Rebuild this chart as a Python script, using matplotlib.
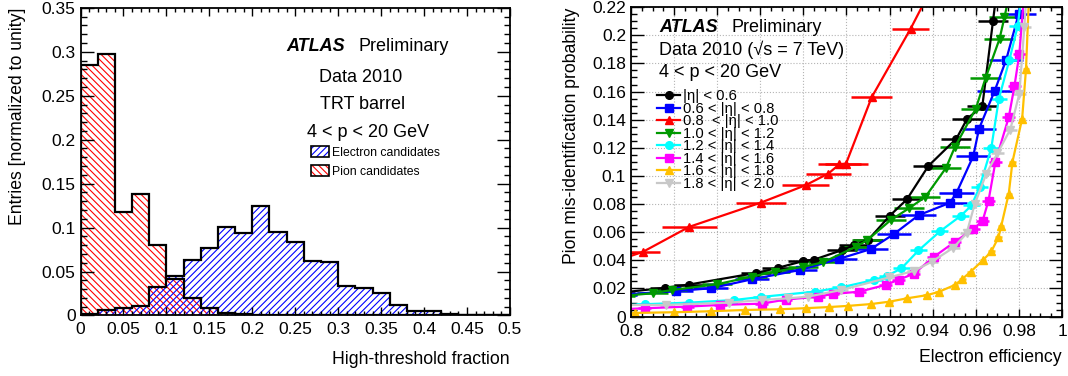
import matplotlib
matplotlib.use('Agg')
import matplotlib.pyplot as plt
import numpy as np
from matplotlib.patches import Patch
from matplotlib.ticker import MultipleLocator, FuncFormatter

plt.rcParams['font.family'] = ['Liberation Sans', 'DejaVu Sans']
plt.rcParams['hatch.linewidth'] = 0.8

# ---------------- left panel data ----------------
bin_start = 0.0
bin_width = 0.02
electron = [0.002, 0.006, 0.008, 0.011, 0.032, 0.045, 0.063, 0.077, 0.101, 0.094,
            0.124, 0.095, 0.084, 0.062, 0.061, 0.034, 0.0315, 0.025, 0.0115, 0.0046,
            0.0046, 0.0012, 0.0008, 0.0003, 0.0001]
pion = [0.285, 0.298, 0.118, 0.138, 0.080, 0.041, 0.020, 0.0085, 0.003, 0.0015,
        0.001, 0.0005, 0.0003, 0.0, 0.0, 0.0, 0.0, 0.0, 0.0, 0.0,
        0.0, 0.0, 0.0, 0.0, 0.0]

# ---------------- right panel data ----------------
labels = ['|η| < 0.6', '0.6 < |η| < 0.8', '0.8  < |η| < 1.0', '1.0 < |η| < 1.2',
          '1.2 < |η| < 1.4', '1.4 < |η| < 1.6', '1.6 < |η| < 1.8', '1.8 < |η| < 2.0']

eff_eta06 = [0.795, 0.816, 0.827, 0.858, 0.868, 0.880, 0.885, 0.898, 0.9035, 0.910,
             0.920, 0.928, 0.938, 0.951, 0.956, 0.963, 0.968, 0.972]
mis_eta06 = [0.0170, 0.0205, 0.0228, 0.0310, 0.0346, 0.0395, 0.0405, 0.0473, 0.0508, 0.0544,
             0.0716, 0.0833, 0.1071, 0.1265, 0.1407, 0.1494, 0.2104, 0.260]
err_eta06 = 0.007

eff_eta08 = [0.795, 0.8208, 0.837, 0.8561, 0.8783, 0.8967, 0.9113, 0.922, 0.9335, 0.948,
             0.9511, 0.9588, 0.9615, 0.9687, 0.9741, 0.9799, 0.983]
mis_eta08 = [0.0155, 0.0182, 0.0201, 0.0265, 0.0331, 0.0411, 0.0480, 0.0587, 0.0721, 0.0809,
             0.0882, 0.1140, 0.1336, 0.1603, 0.1826, 0.2152, 0.25]
err_eta08 = 0.008

eff_eta10 = [0.790, 0.8055, 0.827, 0.8604, 0.881, 0.8916, 0.8967, 0.8998, 0.9117, 0.9297, 0.945]
mis_eta10 = [0.038, 0.046, 0.0638, 0.0811, 0.0934, 0.1017, 0.1083, 0.1088, 0.156, 0.2045, 0.250]
err_eta10 = [0.008, 0.008, 0.0127, 0.0117, 0.0107, 0.0103, 0.010, 0.010, 0.0094, 0.0085, 0.008]

eff_eta12 = [0.795, 0.810, 0.819, 0.840, 0.856, 0.867, 0.880, 0.889, 0.9044, 0.9097,
             0.9205, 0.9289, 0.9366, 0.9462, 0.9503, 0.960, 0.9645, 0.971, 0.9733, 0.977]
mis_eta12 = [0.0145, 0.0166, 0.0189, 0.0230, 0.0284, 0.0320, 0.0355, 0.0385, 0.0497, 0.0544,
             0.0686, 0.0769, 0.0851, 0.1058, 0.1206, 0.1478, 0.1695, 0.1974, 0.2128, 0.240]
err_eta12 = 0.007

eff_eta14 = [0.795, 0.8063, 0.827, 0.8479, 0.8605, 0.8852, 0.8975, 0.9128, 0.9189, 0.9255,
             0.9334, 0.9433, 0.953, 0.958, 0.9618, 0.9672, 0.9707, 0.9756, 0.9795, 0.982]
mis_eta14 = [0.0080, 0.0088, 0.0099, 0.0118, 0.0140, 0.0177, 0.0208, 0.0260, 0.0290, 0.0343,
             0.0470, 0.0605, 0.0716, 0.0790, 0.0922, 0.1200, 0.1549, 0.1826, 0.2069, 0.24]
err_eta14 = 0.004

eff_eta16 = [0.795, 0.8063, 0.8262, 0.8415, 0.8607, 0.8718, 0.887, 0.8937, 0.9059, 0.9182,
             0.9243, 0.9312, 0.9404, 0.9503, 0.9589, 0.9632, 0.9659, 0.9691, 0.9753, 0.9779,
             0.9802, 0.983]
mis_eta16 = [0.0052, 0.0059, 0.0071, 0.0083, 0.0092, 0.0121, 0.0142, 0.0161, 0.0177, 0.0225,
             0.0263, 0.0304, 0.0423, 0.0532, 0.0622, 0.0683, 0.0825, 0.1100, 0.1418, 0.1636,
             0.1868, 0.24]
err_eta16 = 0.003

eff_eta18 = [0.795, 0.8018, 0.8201, 0.8369, 0.8527, 0.8691, 0.8814, 0.8921, 0.9006, 0.9113,
             0.9199, 0.9281, 0.9372, 0.9427, 0.9503, 0.9538, 0.9576, 0.9634, 0.9672, 0.9705,
             0.9718, 0.9753, 0.9770, 0.9815, 0.9833, 0.985]
mis_eta18 = [0.0024, 0.0026, 0.0031, 0.0038, 0.0047, 0.0052, 0.0060, 0.0068, 0.0076, 0.0089,
             0.0106, 0.0130, 0.0152, 0.0175, 0.0225, 0.0268, 0.0319, 0.0402, 0.0463, 0.0563,
             0.0645, 0.0875, 0.1100, 0.1407, 0.1762, 0.24]
err_eta18 = 0.0015

eff_eta20 = [0.795, 0.8163, 0.8454, 0.8607, 0.873, 0.8822, 0.8975, 0.9197, 0.9312, 0.9396,
             0.9496, 0.9557, 0.9595, 0.9649, 0.9700, 0.9760, 0.9802, 0.9825, 0.984]
mis_eta20 = [0.0082, 0.0083, 0.0099, 0.0118, 0.0130, 0.0142, 0.0189, 0.0278, 0.0325, 0.0390,
             0.0490, 0.0591, 0.0800, 0.1017, 0.1160, 0.1330, 0.1584, 0.2057, 0.24]
err_eta20 = 0.003

series = [
    (eff_eta06, mis_eta06, err_eta06, 'black', 'o'),
    (eff_eta08, mis_eta08, err_eta08, '#0000ff', 's'),
    (eff_eta10, mis_eta10, err_eta10, '#ff0000', '^'),
    (eff_eta12, mis_eta12, err_eta12, '#009900', 'v'),
    (eff_eta14, mis_eta14, err_eta14, '#00ffff', 'o'),
    (eff_eta16, mis_eta16, err_eta16, '#ff00ff', 's'),
    (eff_eta18, mis_eta18, err_eta18, '#ffc000', '^'),
    (eff_eta20, mis_eta20, err_eta20, '#c8c8c8', 'v'),
]

# ---------------- figure ----------------
fig = plt.figure(figsize=(10.68, 3.76), dpi=100)
ax1 = fig.add_axes([0.0754, 0.161, 0.4021, 0.818])
ax2 = fig.add_axes([0.5908, 0.158, 0.4036, 0.823])

fmt = FuncFormatter(lambda v, p: '%g' % round(v, 4))


def root_style(ax, xmaj, xmin, ymaj, ymin):
    ax.xaxis.set_major_locator(MultipleLocator(xmaj))
    ax.xaxis.set_minor_locator(MultipleLocator(xmin))
    ax.yaxis.set_major_locator(MultipleLocator(ymaj))
    ax.yaxis.set_minor_locator(MultipleLocator(ymin))
    ax.xaxis.set_major_formatter(fmt)
    ax.yaxis.set_major_formatter(fmt)
    ax.tick_params(which='both', direction='in', top=True, right=True,
                   labelsize=12.5, width=1.0, color='black')
    ax.tick_params(axis='x', which='major', length=5.8, pad=5)
    ax.tick_params(axis='x', which='minor', length=3.2)
    ax.tick_params(axis='y', which='major', length=9.1, pad=3.5)
    ax.tick_params(axis='y', which='minor', length=4.4)
    for s in ax.spines.values():
        s.set_linewidth(1.3)


# ---- left panel ----
n = len(electron)
edges = bin_start + bin_width * np.arange(n + 1)
ax1.bar(edges[:-1], pion, width=bin_width, align='edge', fill=False,
        hatch='\\\\\\\\\\', edgecolor='#ff0000', linewidth=0)
ax1.bar(edges[:-1], electron, width=bin_width, align='edge', fill=False,
        hatch='/////', edgecolor='#0000ff', linewidth=0)
ax1.stairs(electron, edges, color='black', lw=1.6)
ax1.stairs(pion, edges, color='black', lw=1.6)
ax1.set_xlim(0, 0.5)
ax1.set_ylim(0, 0.35)
root_style(ax1, 0.05, 0.01, 0.05, 0.01)
ax1.set_xlabel('High-threshold fraction', fontsize=12.7, loc='right')
ax1.set_ylabel('Entries [normalized to unity]', fontsize=12.7, loc='top')
ax1.xaxis.set_label_coords(1.0, -0.115)
ax1.yaxis.set_label_coords(-0.128, 1.0)

ax1.text(0.480, 0.860, 'ATLAS', transform=ax1.transAxes, fontsize=13,
         fontweight='bold', fontstyle='italic', ha='left', va='baseline')
ax1.text(0.6468, 0.860, 'Preliminary', transform=ax1.transAxes, fontsize=13,
         ha='left', va='baseline')
ax1.text(0.653, 0.7603, 'Data 2010', transform=ax1.transAxes, fontsize=13,
         ha='center', va='baseline')
ax1.text(0.657, 0.6705, 'TRT barrel', transform=ax1.transAxes, fontsize=13,
         ha='center', va='baseline')
ax1.text(0.6694, 0.5815, '4 < p < 20 GeV', transform=ax1.transAxes, fontsize=13,
         ha='center', va='baseline')

h_el = (Patch(fill=False, hatch='/////', edgecolor='#0000ff', lw=0),
        Patch(fill=False, edgecolor='black', lw=1.2))
h_pi = (Patch(fill=False, hatch='\\\\\\\\\\', edgecolor='#ff0000', lw=0),
        Patch(fill=False, edgecolor='black', lw=1.2))
ax1.legend([h_el, h_pi], ['Electron candidates', 'Pion candidates'],
           loc='upper left', bbox_to_anchor=(0.536, 0.55), frameon=False,
           fontsize=8.8, handlelength=1.5, handleheight=0.95, handletextpad=0.25,
           labelspacing=0.55, borderpad=0, borderaxespad=0)

# ---- right panel ----
handles = []
for (x, y, xe, c, m) in series:
    eb = ax2.errorbar(x, y, xerr=xe, color=c, marker=m, markersize=5.5, lw=1.6,
                      elinewidth=1.8, capsize=0, markeredgecolor=c)
    handles.append(eb.lines[0])
ax2.set_xlim(0.8, 1.0)
ax2.set_ylim(0, 0.22)
root_style(ax2, 0.02, 0.005, 0.02, 0.005)
ax2.grid(True, which='major', ls=':', color='#b4b4b4', lw=0.8)
ax2.set_axisbelow(True)
ax2.set_xlabel('Electron efficiency', fontsize=12.7, loc='right')
ax2.set_ylabel('Pion mis-identification probability', fontsize=12.7, loc='top')
ax2.xaxis.set_label_coords(1.0, -0.104)
ax2.yaxis.set_label_coords(-0.118, 1.0)

ax2.text(0.0657, 0.921, 'ATLAS', transform=ax2.transAxes, fontsize=13,
         fontweight='bold', fontstyle='italic', ha='left', va='baseline')
ax2.text(0.2336, 0.921, 'Preliminary', transform=ax2.transAxes, fontsize=13,
         ha='left', va='baseline')
ax2.text(0.0657, 0.8458, 'Data 2010 (√s = 7 TeV)', transform=ax2.transAxes,
         fontsize=13, ha='left', va='baseline')
ax2.text(0.0657, 0.7757, '4 < p < 20 GeV', transform=ax2.transAxes, fontsize=13,
         ha='left', va='baseline')
ax2.legend(handles, labels, loc='upper left', bbox_to_anchor=(0.06, 0.735),
           frameon=False, fontsize=10.6, handlelength=1.6, handletextpad=0.2,
           labelspacing=-0.1, borderpad=0, borderaxespad=0)

fig.savefig('out.png', dpi=100)
